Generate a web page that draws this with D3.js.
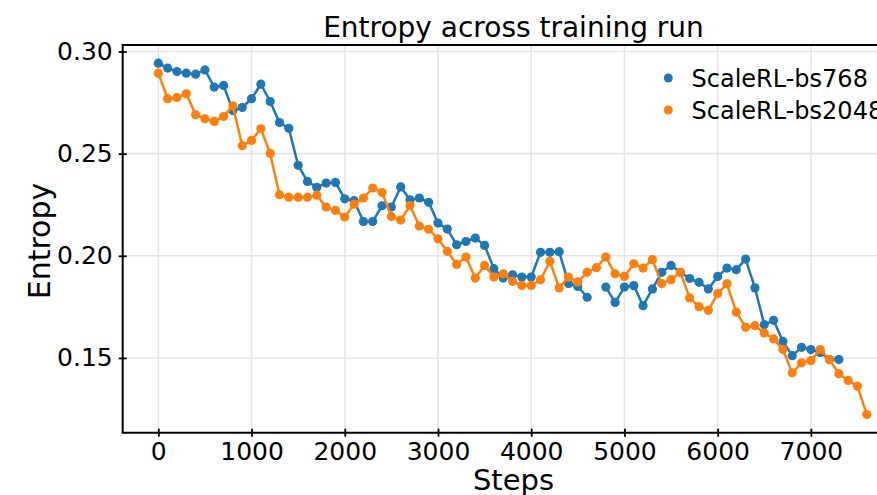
<!DOCTYPE html>
<html>
<head>
<meta charset="utf-8">
<script src="https://cdn.jsdelivr.net/npm/d3@7/dist/d3.min.js"></script>
<style>
  html, body { margin: 0; padding: 0; background: #fff; }
  svg { display: block; }
  text { font-family: "DejaVu Sans", sans-serif; fill: #000; }
</style>
</head>
<body>
<svg id="chart" width="877" height="495"></svg>
<script>
// Training steps at which entropy was logged
const steps = [
  0, 100, 200, 300, 400, 500, 600, 700, 800, 900,
  1000, 1100, 1200, 1300, 1400, 1500, 1600, 1700, 1800, 1900,
  2000, 2100, 2200, 2300, 2400, 2500, 2600, 2700, 2800, 2900,
  3000, 3100, 3200, 3300, 3400, 3500, 3600, 3700, 3800, 3900,
  4000, 4100, 4200, 4300, 4400, 4500, 4600, 4700, 4800, 4900,
  5000, 5100, 5200, 5300, 5400, 5500, 5600, 5700, 5800, 5900,
  6000, 6100, 6200, 6300, 6400, 6500, 6600, 6700, 6800, 6900,
  7000, 7100, 7200, 7300, 7400, 7500, 7600
];

// Entropy, batch size 768 (no value logged at step 4700; run ends at 7300)
const bs768 = [
  0.2943, 0.2919, 0.2902, 0.2894, 0.2889, 0.2910, 0.2826, 0.2834, 0.2711, 0.2726,
  0.2769, 0.2840, 0.2755, 0.2652, 0.2624, 0.2443, 0.2364, 0.2335, 0.2356, 0.2359,
  0.2279, 0.2270, 0.2168, 0.2168, 0.2245, 0.2239, 0.2337, 0.2274, 0.2283, 0.2262,
  0.2160, 0.2131, 0.2054, 0.2070, 0.2087, 0.2051, 0.1937, 0.1891, 0.1907, 0.1896,
  0.1896, 0.2017, 0.2017, 0.2020, 0.1865, 0.1850, 0.1797, null, 0.1847, 0.1772,
  0.1847, 0.1854, 0.1756, 0.1838, 0.1919, 0.1953, 0.1919, 0.1889, 0.1870, 0.1838,
  0.1899, 0.1940, 0.1932, 0.1984, 0.1843, 0.1663, 0.1684, 0.1581, 0.1511, 0.1552,
  0.1541, 0.1527, 0.1492, 0.1492
];

// Entropy, batch size 2048
const bs2048 = [
  0.2894, 0.2769, 0.2775, 0.2793, 0.2690, 0.2671, 0.2658, 0.2682, 0.2734, 0.2539,
  0.2565, 0.2622, 0.2501, 0.2299, 0.2287, 0.2287, 0.2287, 0.2297, 0.2239, 0.2222,
  0.2190, 0.2253, 0.2283, 0.2332, 0.2310, 0.2193, 0.2175, 0.2246, 0.2146, 0.2130,
  0.2083, 0.2022, 0.1958, 0.1994, 0.1891, 0.1953, 0.1896, 0.1912, 0.1875, 0.1855,
  0.1855, 0.1883, 0.1973, 0.1843, 0.1896, 0.1872, 0.1919, 0.1942, 0.1994, 0.1912,
  0.1899, 0.1961, 0.1940, 0.1981, 0.1864, 0.1883, 0.1919, 0.1794, 0.1751, 0.1733,
  0.1815, 0.1863, 0.1724, 0.1650, 0.1658, 0.1622, 0.1593, 0.1541, 0.1427, 0.1476,
  0.1487, 0.1541, 0.1492, 0.1423, 0.1390, 0.1361, 0.1223
];

const seriesNames = ["ScaleRL-bs768", "ScaleRL-bs2048"];
const seriesColors = ["#1f77b4", "#ff7f0e"];
const xTicks = [0, 1000, 2000, 3000, 4000, 5000, 6000, 7000];
const yTicks = [0.15, 0.20, 0.25, 0.30];
const yTickLabels = ["0.15", "0.20", "0.25", "0.30"];

const titleText = "Entropy across training run";
const xLabel = "Steps";
const yLabel = "Entropy";

// ---- layout ----
const W = 877, H = 495;
const plot = { left: 122.7, right: 904.3, top: 45, bottom: 432.7 };

const x = d3.scaleLinear().domain([-382, 8002]).range([plot.left, plot.right]);
const y = d3.scaleLinear().domain([0.1134, 0.3032]).range([plot.bottom, plot.top]);

const svg = d3.select("#chart");
svg.append("rect").attr("width", W).attr("height", H).attr("fill", "#fff");

// grid
const grid = svg.append("g").attr("stroke", "#e6e6e6").attr("stroke-width", 1.6);
grid.selectAll("line.gx").data(xTicks).join("line")
  .attr("x1", d => x(d)).attr("x2", d => x(d))
  .attr("y1", plot.top).attr("y2", plot.bottom);
grid.selectAll("line.gy").data(yTicks).join("line")
  .attr("x1", plot.left).attr("x2", W)
  .attr("y1", d => y(d)).attr("y2", d => y(d));

// series
const series = [
  { name: seriesNames[0], color: seriesColors[0], values: bs768 },
  { name: seriesNames[1], color: seriesColors[1], values: bs2048 }
].map(s => ({ ...s, points: s.values.map((v, i) => ({ step: steps[i], v })) }));

const line = d3.line()
  .defined(d => d.v !== null)
  .x(d => x(d.step))
  .y(d => y(d.v));

series.forEach(s => {
  const g = svg.append("g");
  g.append("path")
    .attr("d", line(s.points))
    .attr("fill", "none")
    .attr("stroke", s.color)
    .attr("stroke-width", 2.5)
    .attr("stroke-linejoin", "round");
  g.selectAll("circle").data(s.points.filter(d => d.v !== null)).join("circle")
    .attr("cx", d => x(d.step))
    .attr("cy", d => y(d.v))
    .attr("r", 4.6)
    .attr("fill", s.color);
});

// axes
const xAxis = d3.axisBottom(x).tickValues(xTicks).tickFormat(d3.format("d"))
  .tickSizeInner(4).tickSizeOuter(0).tickPadding(6);
const gx = svg.append("g").attr("transform", `translate(0,${plot.bottom})`).call(xAxis);
gx.select(".domain").remove();
gx.selectAll(".tick line").attr("y1", -4).attr("stroke", "#000").attr("stroke-width", 1.8);
gx.selectAll(".tick text").attr("font-size", 25).attr("font-family", "DejaVu Sans")
  .attr("dy", "0.71em");

const yAxis = d3.axisLeft(y).tickValues(yTicks).tickFormat((d, i) => yTickLabels[i])
  .tickSizeInner(4).tickSizeOuter(0).tickPadding(6);
const gy = svg.append("g").attr("transform", `translate(${plot.left},0)`).call(yAxis);
gy.select(".domain").remove();
gy.selectAll(".tick line").attr("x1", 4).attr("stroke", "#000").attr("stroke-width", 1.8);
gy.selectAll(".tick text").attr("font-size", 25).attr("font-family", "DejaVu Sans");

// spines (left, bottom, top; the right edge lies beyond the canvas)
const spines = svg.append("g").attr("stroke", "#000").attr("stroke-width", 2).attr("fill", "none");
spines.append("line").attr("x1", plot.left).attr("x2", plot.left).attr("y1", plot.top).attr("y2", plot.bottom);
spines.append("line").attr("x1", plot.left - 1).attr("x2", W).attr("y1", plot.bottom).attr("y2", plot.bottom);
spines.append("line").attr("x1", plot.left - 1).attr("x2", W).attr("y1", plot.top).attr("y2", plot.top);

// title and axis labels
svg.append("text").attr("x", (plot.left + plot.right) / 2).attr("y", 37)
  .attr("text-anchor", "middle").attr("font-size", 28).text(titleText);
svg.append("text").attr("x", (plot.left + plot.right) / 2).attr("y", 490)
  .attr("text-anchor", "middle").attr("font-size", 29).text(xLabel);
svg.append("text")
  .attr("transform", `translate(50,241) rotate(-90)`)
  .attr("text-anchor", "middle").attr("font-size", 30).text(yLabel);

// legend
const legend = svg.append("g");
series.forEach((s, i) => {
  const cy = 78 + i * 32;
  legend.append("circle").attr("cx", 668.3).attr("cy", cy).attr("r", 4.5).attr("fill", s.color);
  legend.append("text").attr("x", 691.5).attr("y", cy).attr("dy", "0.36em")
    .attr("font-size", 24).text(s.name);
});
</script>
</body>
</html>
